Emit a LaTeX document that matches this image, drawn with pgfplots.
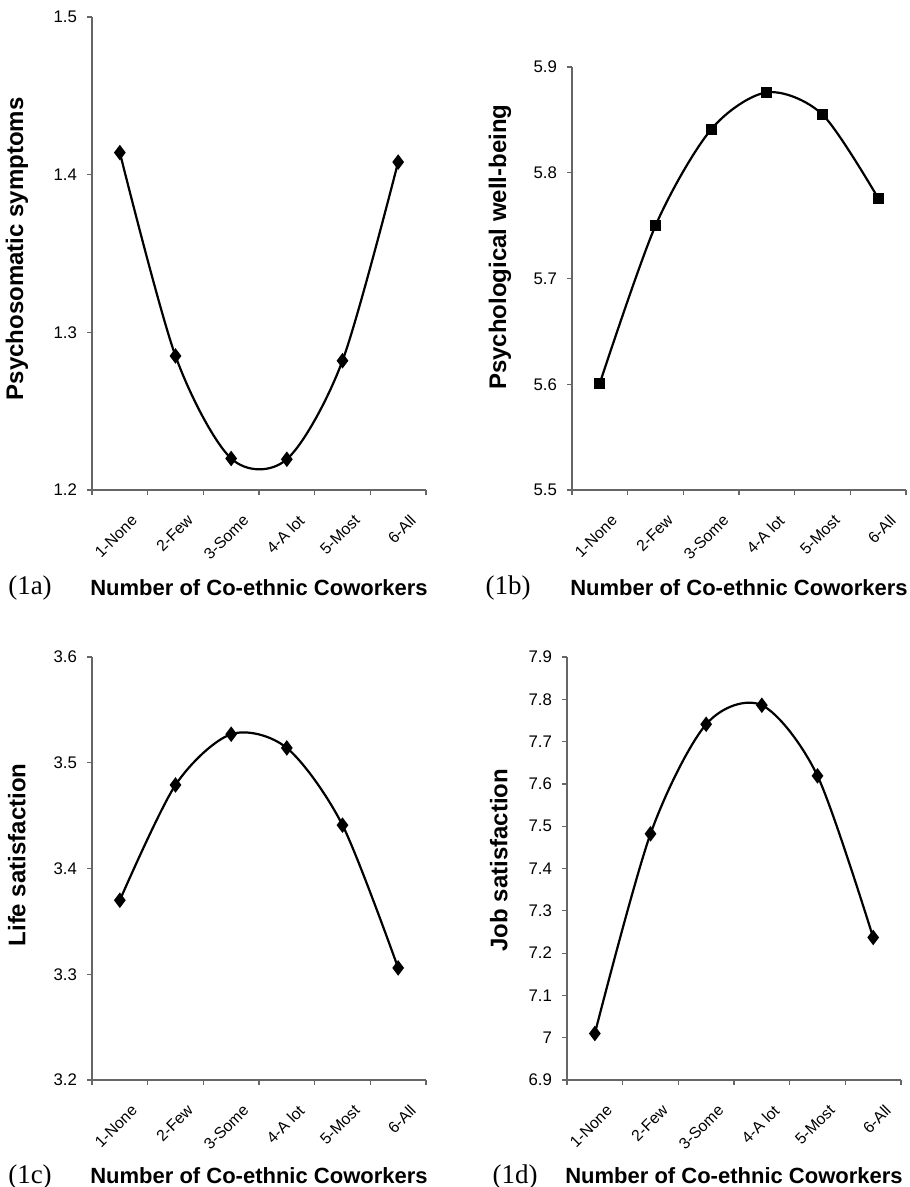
\documentclass[border=0pt]{standalone}
\usepackage{fontspec}
\setmainfont{Liberation Sans}
\newfontfamily\panelfont{Liberation Serif}
\usepackage{pgfplots}
\pgfplotsset{compat=1.18}

% 1 px of the reference = 0.5pt
\pgfplotsset{
  coeth/.style={
    scale only axis,
    width=167pt,
    clip=false,
    axis lines=left,
    axis line style={-, draw=black!60, line width=0.6pt},
    xmin=0.5, xmax=6.5,
    xtick={0.5,1.5,...,6.5},
    xticklabels={},
    extra x ticks={1,2,3,4,5,6},
    extra x tick labels={1-None,2-Few,3-Some,4-A lot,5-Most,6-All},
    extra x tick style={major tick length=0pt},
    tick align=outside,
    major tick length=2.5pt,
    tick style={draw=black!60, line width=0.6pt},
    xticklabel style={rotate=45, anchor=north east, inner sep=1pt,
      font=\fontsize{7.9}{9}\selectfont, xshift=-3.5pt, yshift=-11pt},
    yticklabel style={font=\fontsize{8.4}{10}\selectfont, xshift=-1.5pt},
    /pgf/number format/assume math mode=true,
    xlabel={Number of Co-ethnic Coworkers},
    xlabel style={at={(axis description cs:0.5,0)}, anchor=center, yshift=-49pt,
      font=\fontsize{11}{13}\selectfont\bfseries},
    ylabel style={anchor=center, font=\fontsize{12}{14}\selectfont\bfseries},
  },
  curve/.style={black, line width=1.1pt, smooth, mark options={solid}},
}
\tikzset{panel/.style={font=\panelfont\fontsize{13.5}{15}\selectfont, anchor=center}}

\begin{document}
\begin{tikzpicture}
\useasboundingbox (0,0) rectangle (454.5pt,-593.5pt);

% (1a)
\begin{axis}[coeth, at={(46pt,-245pt)}, anchor=south west, height=236.5pt,
  ymin=1.2, ymax=1.5, ytick={1.2,1.3,1.4,1.5},
  ylabel={Psychosomatic symptoms},
  ylabel style={at={(axis description cs:-0.2246,0.51)}}]
\addplot[curve, mark=diamond*, mark size=3pt] coordinates {
  (1,1.414) (2,1.285) (3,1.220) (4,1.2195) (5,1.282) (6,1.408)};
\node[panel, xshift=-31pt, yshift=-49pt] at (rel axis cs:0,0) {(1a)};
\end{axis}

% (1b)
\begin{axis}[coeth, at={(286pt,-245pt)}, anchor=south west, height=211.5pt,
  ymin=5.5, ymax=5.9, ytick={5.5,5.6,5.7,5.8,5.9},
  ylabel={Psychological well-being},
  ylabel style={at={(axis description cs:-0.216,0.574)}}]
\addplot[curve, mark=square*, mark size=2.2pt] coordinates {
  (1,5.601) (2,5.750) (3,5.841) (4,5.876) (5,5.855) (6,5.776)};
\node[panel, xshift=-32pt, yshift=-49pt] at (rel axis cs:0,0) {(1b)};
\end{axis}

% (1c)
\begin{axis}[coeth, at={(46pt,-540pt)}, anchor=south west, height=211.5pt,
  ymin=3.2, ymax=3.6, ytick={3.2,3.3,3.4,3.5,3.6},
  ylabel={Life satisfaction},
  ylabel style={at={(axis description cs:-0.225,0.532)}},
  xlabel style={yshift=1pt}]
\addplot[curve, mark=diamond*, mark size=3pt] coordinates {
  (1,3.370) (2,3.479) (3,3.527) (4,3.514) (5,3.441) (6,3.306)};
\node[panel, xshift=-31pt, yshift=-48.5pt] at (rel axis cs:0,0) {(1c)};
\end{axis}

% (1d)
\begin{axis}[coeth, at={(283.5pt,-540pt)}, anchor=south west, height=211.5pt,
  ymin=6.9, ymax=7.9, ytick={6.9,7,7.1,7.2,7.3,7.4,7.5,7.6,7.7,7.8,7.9},
  ylabel={Job satisfaction},
  ylabel style={at={(axis description cs:-0.204,0.52)}},
  xlabel style={yshift=1pt}]
\addplot[curve, mark=diamond*, mark size=3pt] coordinates {
  (1,7.010) (2,7.482) (3,7.741) (4,7.786) (5,7.619) (6,7.237)};
\node[panel, xshift=-26pt, yshift=-48.5pt] at (rel axis cs:0,0) {(1d)};
\end{axis}
\end{tikzpicture}
\end{document}
